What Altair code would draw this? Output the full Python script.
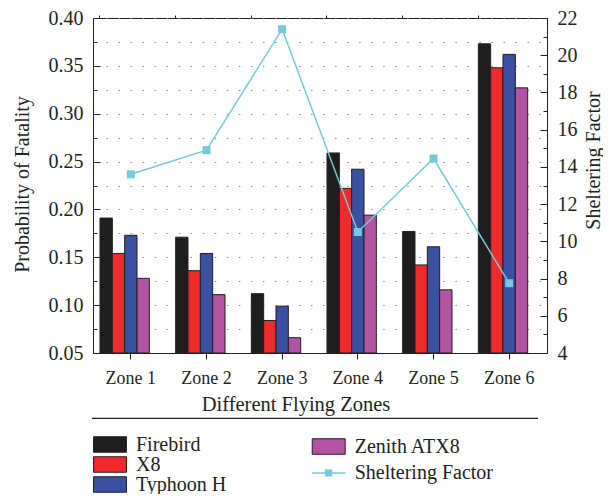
import altair as alt
import pandas as pd

zones = ["Zone 1", "Zone 2", "Zone 3", "Zone 4", "Zone 5", "Zone 6"]
firebird = [0.191, 0.171, 0.112, 0.259, 0.177, 0.373]
x8 = [0.154, 0.136, 0.084, 0.222, 0.142, 0.348]
typhoon_h = [0.173, 0.154, 0.099, 0.242, 0.161, 0.362]
zenith_atx8 = [0.128, 0.111, 0.066, 0.194, 0.116, 0.327]
sheltering = [13.6, 14.9, 21.4, 10.5, 14.45, 7.75]

series_names = ["Firebird", "X8", "Typhoon H", "Zenith ATX8"]
series_colors = ["#1e1e1f", "#ee2a2a", "#3a50a0", "#b254a2"]
line_name = "Sheltering Factor"
line_color = "#74cad9"

left_ticks = [0.05, 0.075, 0.10, 0.125, 0.15, 0.175, 0.20, 0.225, 0.25,
              0.275, 0.30, 0.325, 0.35, 0.375, 0.40]
right_ticks = [4, 5, 6, 7, 8, 9, 10, 11, 12, 13, 14, 15, 16, 17, 18, 19, 20, 21, 22]

FONT = "Liberation Serif"
INK = "#231f20"

rows = []
for name, vals in zip(series_names, [firebird, x8, typhoon_h, zenith_atx8]):
    for z, v in zip(zones, vals):
        rows.append({"zone": z, "series": name, "prob": v})
bars_df = pd.DataFrame(rows)
sf_df = pd.DataFrame({"zone": zones, "sf": sheltering, "name": [line_name] * len(zones)})

rect_path = "M-2.06,-0.97H2.06V0.97H-2.06Z"
line_path = "M-2.1,-0.09H2.1V0.09H-2.1Z M-0.45,-0.45H0.45V0.45H-0.45Z"

x_bar = alt.X(
    "zone:N", sort=zones,
    scale=alt.Scale(paddingInner=0.185, paddingOuter=0.0925),
    axis=alt.Axis(title="Different Flying Zones", labelAngle=0, tickSize=6,
                  tickColor=INK, domainColor=INK, labelPadding=10,
                  labelFontSize=18, titleFontSize=20.5,
                  titleX=202.5, titleY=57, titleBaseline="alphabetic",
                  titleAlign="center"),
)
x_off = alt.XOffset("series:N", scale=alt.Scale(domain=series_names + [line_name],
                                                paddingInner=0, paddingOuter=0))
y_bar = alt.Y(
    "prob:Q",
    scale=alt.Scale(domain=[0.05, 0.40], nice=False, zero=False),
    axis=alt.Axis(orient="left", values=left_ticks, format=".2f",
                  labelExpr="abs(datum.value*20 - round(datum.value*20)) < 0.001 ? datum.label : ''",
                  ticks=False, domainColor=INK, labelPadding=10, labelFontSize=20,
                  grid=True, gridColor="#8a8a8a", gridWidth=1.2,
                  gridDash=[1.5, 10.53], gridDashOffset=11.06,
                  title="Probability of Fatality", titleFontSize=20,
                  titleAngle=270, titleX=-64.3, titleY=166,
                  titleAlign="center", titleBaseline="alphabetic"),
)

legend_common = dict(title=None, orient="none", direction="vertical", padding=0,
                     symbolType=rect_path, symbolSize=256, symbolStrokeColor=INK,
                     symbolStrokeWidth=1, labelFontSize=20, labelFont=FONT,
                     labelColor=INK, labelOffset=16)

bars_a = alt.Chart(bars_df[bars_df.series.isin(series_names[:3])]).mark_bar(
    stroke=INK, strokeWidth=1
).encode(
    x=x_bar, xOffset=x_off, y=y_bar, y2=alt.datum(0.05),
    fill=alt.Fill("series:N",
                  scale=alt.Scale(domain=series_names[:3], range=series_colors[:3]),
                  legend=alt.Legend(legendX=7, legendY=416.5, rowPadding=-0.5,
                                    **legend_common)),
)
bars_b = alt.Chart(bars_df[bars_df.series == series_names[3]]).mark_bar(
    stroke=INK, strokeWidth=1
).encode(
    x=x_bar, xOffset=x_off, y=y_bar, y2=alt.datum(0.05),
    fill=alt.Fill("series:N",
                  scale=alt.Scale(domain=series_names[3:], range=series_colors[3:]),
                  legend=alt.Legend(legendX=225.7, legendY=418.5, **legend_common)),
)
bars = alt.layer(bars_a, bars_b).resolve_scale(fill="independent")

x_line = alt.X(
    "zone:N", sort=zones,
    axis=alt.Axis(labels=False, domain=False, title=None, bandPosition=0,
                  tickSize=3, tickColor=INK),
)
y_line = alt.Y(
    "sf:Q",
    scale=alt.Scale(domain=[4, 22], nice=False, zero=False),
    axis=alt.Axis(orient="right", values=right_ticks,
                  labelExpr="datum.value % 2 == 0 ? datum.label : ''",
                  ticks=False, domainColor=INK, labelPadding=10, labelFontSize=20,
                  grid=True, gridColor=INK, gridWidth=1,
                  gridDash=alt.condition("datum.value % 2 == 0",
                                         alt.value([7, 2000]), alt.value([4, 2000])),
                  title="Sheltering Factor", titleFontSize=20,
                  titleAngle=270, titleX=52, titleY=142,
                  titleAlign="center", titleBaseline="alphabetic"),
)
line = alt.Chart(sf_df).mark_line(color=line_color, strokeWidth=1.5).encode(
    x=x_line, y=y_line
)
pts = alt.Chart(sf_df).mark_point(shape="square", filled=True, size=64, opacity=1).encode(
    x=x_line, y=y_line,
    color=alt.Color("name:N", scale=alt.Scale(domain=[line_name], range=[line_color]),
                    legend=alt.Legend(title=None, orient="none", legendX=225.7, legendY=445,
                                      padding=0, symbolType=line_path, symbolSize=256,
                                      symbolStrokeWidth=0, labelFontSize=20,
                                      labelFont=FONT, labelColor=INK, labelOffset=16)),
)
lines = alt.layer(line, pts)

grid_layer = alt.Chart(bars_df).mark_point(opacity=0).encode(
    y=alt.Y("prob:Q", scale=alt.Scale(domain=[0.05, 0.40], nice=False, zero=False),
            axis=alt.Axis(orient="left", labels=False, domain=False, ticks=False,
                          title=None, values=left_ticks, grid=True, gridColor=INK,
                          gridWidth=1,
                          gridDash=alt.condition(
                              "abs(datum.value*20 - round(datum.value*20)) < 0.001",
                              alt.value([7, 2000]), alt.value([4, 2000])))),
)

sep = alt.Chart(pd.DataFrame({"k": [0]})).mark_rule(color=INK, strokeWidth=1.2).encode(
    x=alt.value(-1), x2=alt.value(445), y=alt.value(400.3)
)

chart = alt.layer(bars, lines, grid_layer, sep).resolve_scale(
    y="independent"
).resolve_axis(x="independent").properties(
    width=454, height=335,
    padding={"left": 85, "top": 10, "right": 56, "bottom": 141},
    autosize=alt.AutoSizeParams(type="none"),
).configure(font=FONT).configure_axis(
    labelFont=FONT, titleFont=FONT, labelColor=INK, titleColor=INK,
    titleFontWeight="normal",
).configure_view(stroke=INK, strokeWidth=1)

chart.save("out.html", embed_options={"renderer": "svg", "actions": False})
